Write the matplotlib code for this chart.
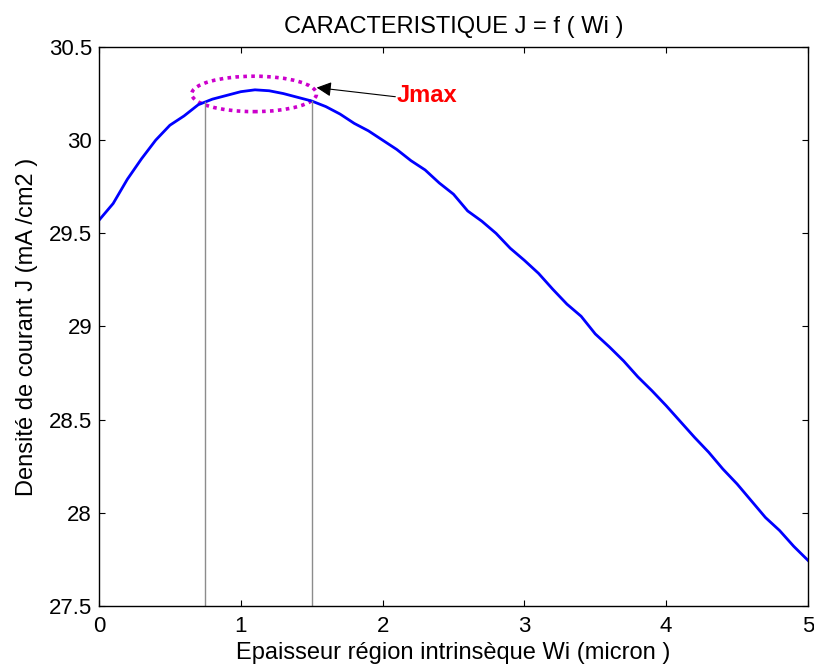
import numpy as np
import matplotlib.pyplot as plt
from matplotlib.patches import Ellipse

plt.rcParams['font.family'] = ['Liberation Sans', 'DejaVu Sans']

# epaisseur Wi (micron) et densite de courant J (mA/cm2)
wi = np.arange(0, 51) / 10.0
j = [29.57, 29.66, 29.79, 29.90, 30.00, 30.08, 30.13, 30.19, 30.22, 30.24,
     30.26, 30.27, 30.265, 30.25, 30.23, 30.21, 30.18, 30.14, 30.09, 30.05,
     30.00, 29.95, 29.89, 29.84, 29.77, 29.71, 29.62, 29.565, 29.50, 29.42,
     29.355, 29.285, 29.20, 29.12, 29.055, 28.96, 28.89, 28.815, 28.73, 28.655,
     28.575, 28.49, 28.405, 28.325, 28.235, 28.155, 28.065, 27.975, 27.905, 27.82,
     27.745]

# limites de la zone Jmax
w_low, w_high = 0.75, 1.5
xticks = [0, 1, 2, 3, 4, 5]
yticks = [27.5, 28, 28.5, 29, 29.5, 30, 30.5]

fig = plt.figure(figsize=(8.14, 6.70), dpi=100)
ax = fig.add_axes([0.1216, 0.0955, 0.871, 0.8344])

ax.plot(wi, j, color=(0, 0, 1), lw=2.0)

for w in (w_low, w_high):
    ax.plot([w, w], [27.5, np.interp(w, wi, j)], color='#8c8c8c', lw=1.0)

ell = Ellipse((1.094, 30.248), 0.88, 0.19, fill=False, edgecolor=(0.8, 0, 0.8),
              linestyle=(0, (1, 1.2)), lw=2.6)
ax.add_patch(ell)

ax.annotate('', xy=(1.535, 30.282), xytext=(2.09, 30.233),
            arrowprops=dict(arrowstyle='-|>', color='k', lw=0.8,
                            mutation_scale=22, shrinkA=0, shrinkB=0))
ax.text(2.10, 30.237, 'Jmax', color='#ff0000', fontsize=17, fontweight='bold',
        ha='left', va='center')

ax.set_xlim(0, 5)
ax.set_ylim(27.5, 30.5)
ax.set_xticks(xticks)
ax.set_yticks(yticks)
ax.set_xticklabels([str(v) for v in xticks])
ax.set_yticklabels(['27.5', '28', '28.5', '29', '29.5', '30', '30.5'])
ax.tick_params(direction='in', top=True, right=True, length=4, width=0.8,
               labelsize=16)
ax.tick_params(axis='x', pad=7.5)
ax.tick_params(axis='y', pad=5)
for s in ax.spines.values():
    s.set_linewidth(1.0)

ax.set_title('CARACTERISTIQUE J = f ( Wi )', fontsize=17, pad=10)
ax.set_xlabel('Epaisseur région intrinsèque Wi (micron )', fontsize=17, labelpad=3)
ax.set_ylabel('Densité de courant J (mA /cm2 )', fontsize=17, labelpad=8)

fig.savefig('out.png', dpi=100)
